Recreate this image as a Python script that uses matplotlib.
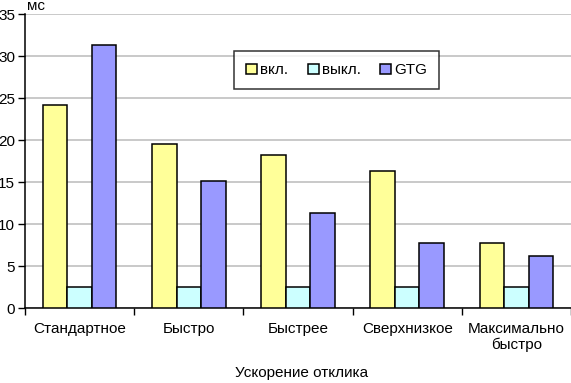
import numpy as np
import matplotlib
matplotlib.use("Agg")
from matplotlib import pyplot as plt

plt.rcParams['font.family'] = ['Liberation Sans', 'DejaVu Sans']

categories = ["Стандартное", "Быстро", "Быстрее", "Сверхнизкое", "Максимально\nбыстро"]
series_names = ["вкл.", "выкл.", "GTG"]
vkl = [24.2, 19.6, 18.2, 16.4, 7.8]
vykl = [2.5, 2.5, 2.5, 2.5, 2.5]
gtg = [31.4, 15.2, 11.3, 7.8, 6.2]
colors = ["#ffff99", "#ccffff", "#9999ff"]

fig = plt.figure(figsize=(5.71, 3.83), dpi=100)
ax = fig.add_axes([25 / 571, 1 - 308.3 / 383, 546 / 571, 294 / 383])

x = np.arange(len(categories))
w = 0.225
for i, (vals, col, name) in enumerate(zip([vkl, vykl, gtg], colors, series_names)):
	ax.bar(x + (i - 1) * w, vals, w, color=col, edgecolor="black", linewidth=1.1,
		label=name, zorder=3)

ax.set_xlim(-0.5, len(categories) - 0.5)
ax.set_ylim(0, 35)
ax.set_yticks(np.arange(0, 36, 5))
ax.yaxis.grid(True, color="#c0c0c0", linewidth=1.2, zorder=0)
ax.set_axisbelow(True)

# category labels between boundary ticks
ax.set_xticks(np.arange(-0.5, len(categories), 1))
ax.set_xticklabels([])
ax.set_xticks(x, minor=True)
ax.set_xticklabels(categories, minor=True, fontsize=11, linespacing=1.1, va="top", ha="left")
for lbl in ax.get_xticklabels(minor=True):
	lbl.set_ha("center")
ax.tick_params(axis="x", which="minor", length=0, pad=10)
ax.tick_params(axis="x", which="major", length=5, direction="out", width=1)
ax.tick_params(axis="y", length=5, direction="out", width=1, labelsize=11, pad=2)

for s in ["top", "right"]:
	ax.spines[s].set_visible(False)
for s in ["left", "bottom"]:
	ax.spines[s].set_color("black")
	ax.spines[s].set_linewidth(1.1)

fig.text(27 / 571, 1 - 6 / 383, "мс", fontsize=11, ha="left", va="center")
fig.text(302 / 571, 1 - 373 / 383, "Ускорение отклика", fontsize=11, ha="center", va="center")

leg = ax.legend(loc="upper left", bbox_to_anchor=((234 - 25) / 546, (308.3 - 51) / 294),
	ncol=3, fontsize=11, frameon=True, fancybox=False, edgecolor="black",
	handlelength=0.7, handleheight=0.7, handletextpad=0.2, columnspacing=1.3,
	borderpad=0.8, borderaxespad=0)
leg.get_frame().set_linewidth(1.1)

fig.savefig("out.png", dpi=100)
